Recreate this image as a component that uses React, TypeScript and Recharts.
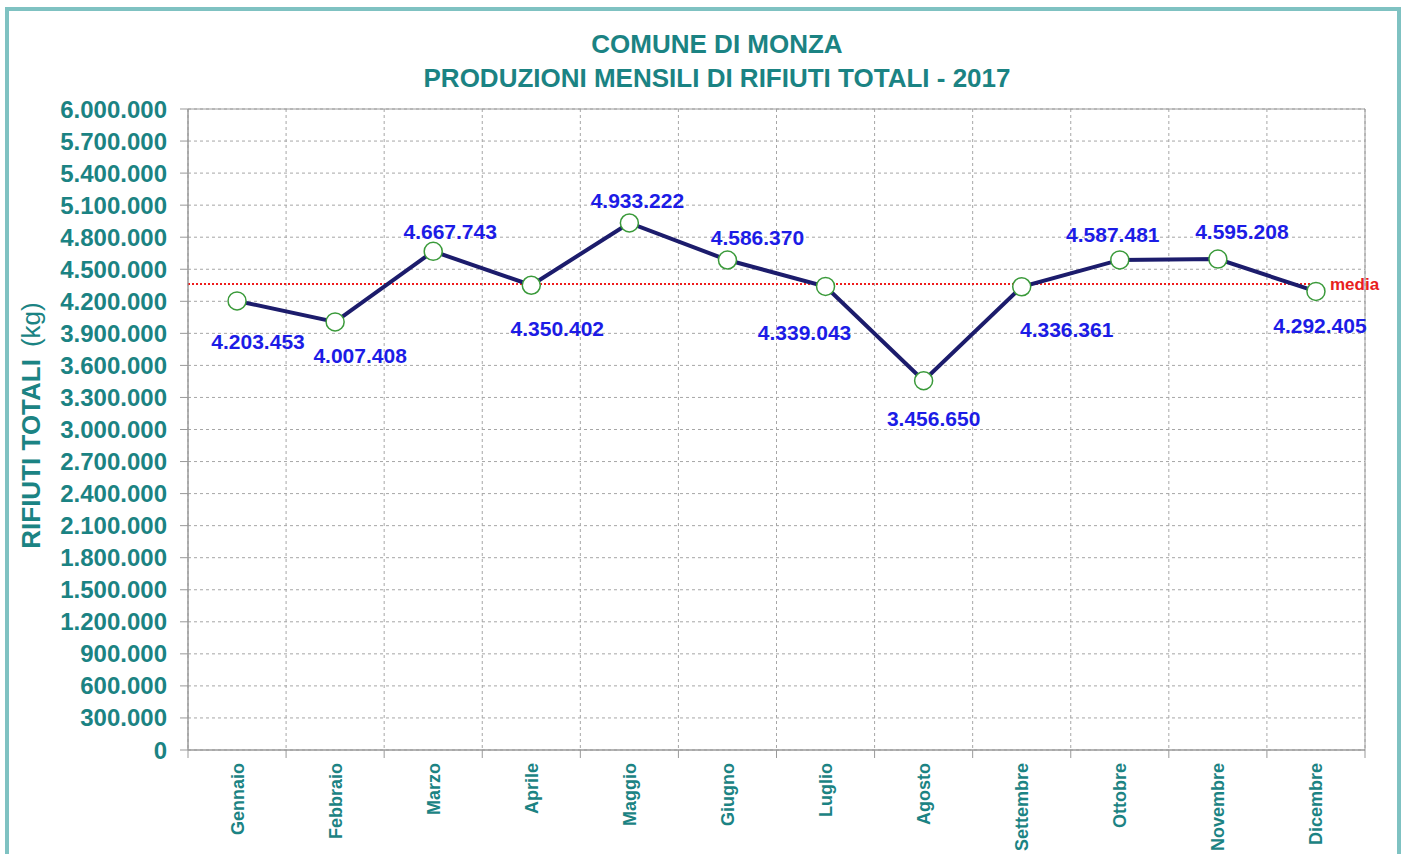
import React from 'react';
import {
  LineChart,
  Line,
  XAxis,
  YAxis,
  CartesianGrid,
  ReferenceLine,
  ReferenceArea,
  LabelList,
  Label,
} from 'recharts';

// ---- data ----
const months = [
  'Gennaio', 'Febbraio', 'Marzo', 'Aprile', 'Maggio', 'Giugno',
  'Luglio', 'Agosto', 'Settembre', 'Ottobre', 'Novembre', 'Dicembre',
];
const values = [
  4203453, 4007408, 4667743, 4350402, 4933222, 4586370,
  4339043, 3456650, 4336361, 4587481, 4595208, 4292405,
];
const yTicks = [
  0, 300000, 600000, 900000, 1200000, 1500000, 1800000, 2100000, 2400000,
  2700000, 3000000, 3300000, 3600000, 3900000, 4200000, 4500000, 4800000,
  5100000, 5400000, 5700000, 6000000,
];
const titleLines = ['COMUNE DI MONZA', 'PRODUZIONI MENSILI DI RIFIUTI TOTALI - 2017'];

// label placement relative to each point (style only)
const labelDx = [21, 25, 17, 26, 8, 30, -21, 10, 45, -7, 24, 4];
const labelDy = [48, 41, -12, 51, -15, -15, 54, 45, 50, -18, -20, 42];

const media = values.reduce((a, b) => a + b, 0) / values.length;

const data = months.map((m, i) => ({ pos: i + 0.5, month: m, value: values[i] }));
const boundaryTicks = months.map((_, i) => i).concat(months.length);
const mainTicks: number[] = [];
for (let i = 0; i <= months.length * 2; i++) mainTicks.push(i / 2);

const TEAL = '#1b8383';
const FONT = '"Liberation Sans", Arial, sans-serif';
const fmt = (v: number) => Math.round(v).toString().replace(/\B(?=(\d{3})+(?!\d))/g, '.');

const MonthTick = (props: any) => {
  const { x, y, payload } = props;
  const v = payload.value as number;
  if (Number.isInteger(v)) {
    return <line x1={x} x2={x} y1={y - 12} y2={y - 4} stroke="#999" strokeWidth={1} />;
  }
  const label = months[Math.floor(v)];
  return (
    <text
      x={x}
      y={y + 1}
      transform={`rotate(-90, ${x}, ${y + 1})`}
      textAnchor="end"
      dy="0.36em"
      fill={TEAL}
      fontSize={18}
      fontWeight="bold"
      fontFamily={FONT}
    >
      {label}
    </text>
  );
};

const ValueLabel = (props: any) => {
  const vb = props.viewBox || {};
  const px = vb.x ?? props.x;
  const py = vb.y ?? props.y;
  const i = props.index as number;
  return (
    <text
      x={px + labelDx[i]}
      y={py + labelDy[i]}
      textAnchor="middle"
      fill="#1c1ce6"
      fontSize={21}
      fontWeight="bold"
      fontFamily={FONT}
    >
      {fmt(props.value)}
    </text>
  );
};

const MediaLabel = (props: any) => {
  const vb = props.viewBox || {};
  const x = vb.x + (vb.width || 0) + 14;
  const y = vb.y + 6;
  return (
    <text x={x} y={y} fill="#e8201c" fontSize={17} fontWeight="bold" fontFamily={FONT}>
      media
    </text>
  );
};

const YLabel = (props: any) => {
  const vb = props.viewBox || {};
  const x = 40;
  const y = vb.y + vb.height / 2 - 4;
  return (
    <text
      x={x}
      y={y}
      transform={`rotate(-90, ${x}, ${y})`}
      textAnchor="middle"
      fill={TEAL}
      fontSize={26}
      fontFamily={FONT}
    >
      <tspan fontWeight="bold">RIFIUTI TOTALI</tspan>
      <tspan fontWeight="normal" dx={12}>(kg)</tspan>
    </text>
  );
};

export default function App() {
  return (
    <div
      style={{
        position: 'absolute',
        left: 0,
        top: 0,
        width: 1404,
        height: 854,
        overflow: 'hidden',
        background: '#ffffff',
        fontFamily: FONT,
      }}
    >
      <div
        style={{
          position: 'absolute',
          left: 5,
          top: 7,
          width: 1388,
          height: 900,
          border: '4px solid #7fc2c2',
        }}
      />
      {titleLines.map((t, i) => (
        <div
          key={t}
          style={{
            position: 'absolute',
            left: 0,
            width: 1434,
            top: 31 + i * 34,
            textAlign: 'center',
            color: TEAL,
            fontSize: 26,
            lineHeight: '26px',
            fontWeight: 'bold',
            fontFamily: FONT,
            whiteSpace: 'nowrap',
          }}
        >
          {t}
        </div>
      ))}
      <div style={{ position: 'absolute', left: 0, top: 0 }}>
        <LineChart
          width={1404}
          height={854}
          data={data}
          margin={{ top: 109, right: 39, bottom: 0, left: 0 }}
        >
          <XAxis
            xAxisId="grid"
            dataKey="pos"
            type="number"
            domain={[0, 12]}
            ticks={boundaryTicks}
            height={0}
            hide
          />
          <XAxis
            xAxisId="main"
            dataKey="pos"
            type="number"
            domain={[0, 12]}
            ticks={mainTicks}
            interval={0}
            height={104}
            tickSize={8}
            tickMargin={4}
            tickLine={false}
            axisLine={{ stroke: '#999' }}
            tick={MonthTick}
          />
          <YAxis
            type="number"
            domain={[0, 6000000]}
            ticks={yTicks}
            interval={0}
            width={188}
            tickSize={8}
            tickMargin={13}
            tickFormatter={fmt}
            axisLine={{ stroke: '#999' }}
            tickLine={{ stroke: '#999' }}
            tick={{ fill: TEAL, fontSize: 24, fontWeight: 'bold', fontFamily: FONT }}
          >
            <Label content={YLabel} />
          </YAxis>
          <CartesianGrid xAxisId="grid" stroke="#a6a6a6" strokeDasharray="3 3" />
          <ReferenceArea
            xAxisId="main"
            x1={0}
            x2={12}
            y1={0}
            y2={6000000}
            fill="none"
            fillOpacity={0}
            stroke="#9a9a9a"
            strokeWidth={1}
          />
          <ReferenceLine
            xAxisId="main"
            segment={[{ x: 0, y: media }, { x: 11.5, y: media }]}
            stroke="#ee1c1c"
            strokeWidth={2}
            strokeDasharray="2 2"
            label={<MediaLabel />}
          />
          <Line
            xAxisId="main"
            dataKey="value"
            type="linear"
            stroke="#1c1c6c"
            strokeWidth={4}
            dot={{ r: 9, fill: '#ffffff', stroke: '#3a9a3a', strokeWidth: 1.5 }}
            activeDot={false}
            isAnimationActive={false}
          >
            <LabelList dataKey="value" content={ValueLabel} />
          </Line>
        </LineChart>
      </div>
    </div>
  );
}
